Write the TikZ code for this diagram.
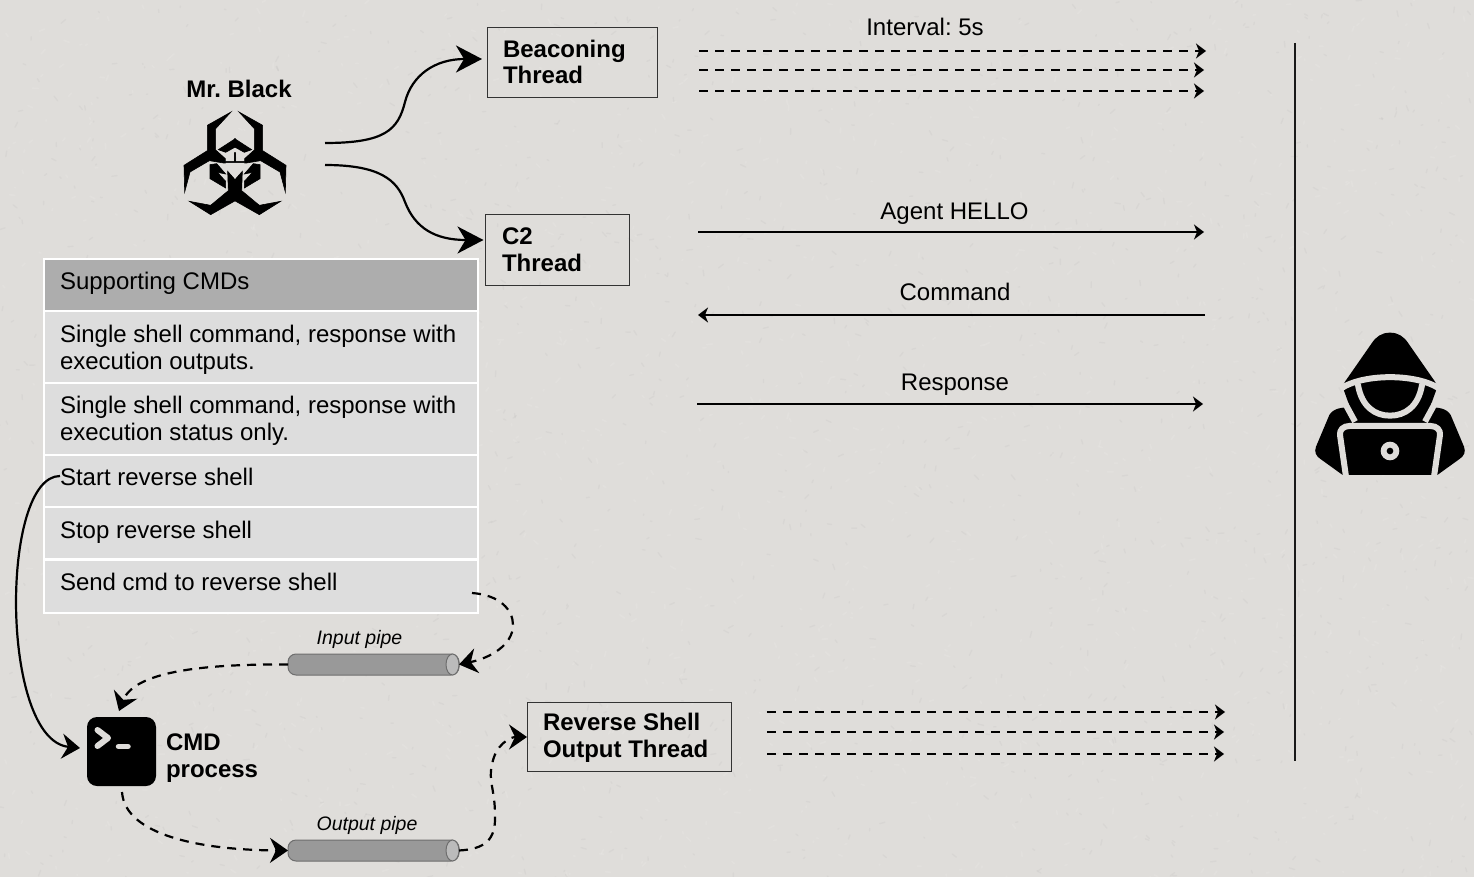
\documentclass[tikz,border=0pt]{standalone}
\usepackage{fontspec}
\setmainfont{Liberation Sans}
\usetikzlibrary{arrows.meta,shapes.geometric}
\definecolor{paper}{HTML}{DFDDDA}
\definecolor{headfill}{HTML}{ADADAD}
\definecolor{rowfill}{HTML}{DDDDDD}
\definecolor{pipefill}{HTML}{999999}
\definecolor{pipecap}{HTML}{BBBBBB}
\definecolor{pipeline}{HTML}{6E6E6E}
\frenchspacing
\tikzset{
  x=1pt,y=-1pt,
  every node/.style={outer sep=0pt},
  txt/.style={inner sep=0pt,font=\fontsize{24}{27}\selectfont,anchor=base},
  celltxt/.style={inner sep=0pt,font=\fontsize{24}{27}\selectfont,anchor=north west,align=left,text height=19pt},
  boldtxt/.style={inner sep=0pt,font=\fontsize{24}{26.5}\selectfont\bfseries,anchor=north west,align=left,text height=19pt},
  pipetxt/.style={inner sep=0pt,font=\fontsize{19.5}{24}\selectfont\itshape,anchor=base},
  threadbox/.style={draw=black!80,line width=1pt,anchor=north west,inner sep=0pt},
  headcell/.style={draw=white,line width=2pt,fill=headfill,anchor=north west,inner sep=0pt,minimum width=434pt},
  cell/.style={draw=white,line width=2pt,fill=rowfill,anchor=north west,inner sep=0pt,minimum width=434pt},
  pipebody/.style={draw=pipeline,line width=1pt,fill=pipefill,rounded corners=8pt,anchor=west,inner sep=0pt,minimum width=171pt,minimum height=21pt},
  pipeend/.style={ellipse,draw=pipeline,line width=1pt,fill=pipecap,inner sep=0pt,minimum width=13pt,minimum height=21pt},
  bigtip/.style={-{Stealth[length=26pt,width=27pt,inset=8pt]}},
  midtip/.style={-{Stealth[length=18pt,width=25pt,inset=6pt]}},
  smalltip/.style={-{Stealth[length=10pt,width=15pt,inset=3pt]}},
  wire/.style={line width=2pt,black},
  dashwire/.style={line width=2pt,black,dash pattern=on 9pt off 7pt},
  curvewire/.style={line width=2.2pt,black},
  curvedash/.style={line width=2.2pt,black,dash pattern=on 9pt off 7pt},
  iconstroke/.style={draw=paper,line width=6pt,line cap=round,line join=round},
  emblempart/.style={fill=black,draw=black,line width=.6pt,line join=miter},
}
\begin{document}
\begin{tikzpicture}
\useasboundingbox (0,0) rectangle (1474,877);
\fill[paper] (0,0) rectangle (1474,877);

% fine paper grain
\begin{scope}
\clip (0,0) rectangle (1474,877);
\pgfmathsetseed{4711}
\foreach \n in {1,...,2600}{
  \pgfmathsetmacro{\px}{rnd*1474}
  \pgfmathsetmacro{\py}{rnd*877}
  \pgfmathsetmacro{\ang}{rnd*180}
  \pgfmathsetmacro{\len}{1+rnd*5}
  \pgfmathtruncatemacro{\odd}{mod(\n,2)}
  \ifnum\odd=1
    \draw[white,opacity=.10,line width=1.6pt,line cap=round] (\px,\py) -- +(\ang:\len);
  \else
    \draw[black!60,opacity=.05,line width=1.4pt,line cap=round] (\px,\py) -- +(\ang:\len);
  \fi
}
\end{scope}

% biohazard emblem, built from one half and its mirror image
\foreach \side in {1,-1}{
\begin{scope}[shift={(235,144)},xscale=\side,x=0.3333pt,y=-0.3333pt,shift={(-165,-108)}]
  \path[emblempart] (153,12) -- (82,52) -- (82,128) -- (12,172) -- (14,252) -- (30,192)
     -- (88,158) -- (130,165) -- (166,165) -- (166,134) -- (164,134) -- (164,160) -- (136,160) -- (136,152) -- (107,126) -- (107,62) -- cycle;
  \path[emblempart] (166,92) -- (115,125) -- (137,133) -- (166,117) -- cycle;
  \path[emblempart] (90,170) -- (110,167) -- (137,198) -- (112,193) -- (137,220) -- (137,240) -- (90,212) -- cycle;
  \path[emblempart] (166,216) -- (143,190) -- (145,248) -- (92,292) -- (28,280) -- (92,320) -- (166,278) -- cycle;
\end{scope}
}
\fill[paper] (225.5,163) -- (244.5,163) -- (235,178.7) -- cycle;

% hooded operator at a laptop
\begin{scope}[shift={(1300,320)},x=0.3333pt,y=-0.3333pt]
  \fill[black] (270,38) .. controls (245,38) and (228,50) .. (215,70) -- (135,185) .. controls (128,195) and (128,205) .. (132,212)
    -- (150,262) .. controls (125,262) and (100,265) .. (88,285) -- (48,380) .. controls (42,395) and (48,408) .. (60,416) -- (128,465)
    -- (412,465) -- (480,416) .. controls (492,408) and (498,395) .. (492,380) -- (452,285) .. controls (440,265) and (415,262) .. (390,262)
    -- (408,212) .. controls (412,205) and (412,195) .. (405,185) -- (325,70) .. controls (312,50) and (295,38) .. (270,38) -- cycle;
  \draw[iconstroke,line cap=butt] (122,206) .. controls (190,160) and (350,160) .. (418,206);
  \draw[iconstroke] (174,195) .. controls (185,260) and (225,287) .. (270,287) .. controls (315,287) and (355,260) .. (366,195);
  \draw[iconstroke,line cap=butt] (135,250) -- (165,305);
  \draw[iconstroke,line cap=butt] (405,250) -- (375,305);
  \draw[iconstroke,line cap=butt] (138,470) -- (120,345) .. controls (118,330) and (130,318) .. (148,318) -- (392,318) .. controls (410,318) and (422,330) .. (420,345) -- (402,470);
  \fill[paper] (270,393) circle (28);
  \fill[black] (270,393) circle (10);
\end{scope}

% terminal icon of the CMD process
\node[fill=black,rounded corners=10pt,inner sep=0pt,minimum width=69pt,minimum height=69pt,anchor=north west] (cmd) at (87,717) {};
\draw[paper,line width=6pt,line cap=round,line join=round] (97.5,730) -- (108,738) -- (97.5,746);
\draw[paper,line width=5.5pt,line cap=round] (118.5,746.5) -- (128,746.5);

% command table
\node[headcell,minimum height=52pt] (chead) at (44,259) {};
\node[cell,minimum height=72pt] (crowa) at (44,311) {};
\node[cell,minimum height=72pt] (crowb) at (44,383) {};
\node[cell,minimum height=53pt] (crowc) at (44,455) {};
\node[cell,minimum height=52pt] (crowd) at (44,507) {};
\node[cell,minimum height=53pt] (crowe) at (44,559.5) {};
\node[celltxt] (theadtxt) at (60,270) {Supporting CMDs};
\node[celltxt] (trowa) at (60,350) {Single shell command, response with\\execution outputs.};
\node[celltxt] (trowb) at (60,421) {Single shell command, response with\\execution status only.};
\node[celltxt] (trowc) at (60,466) {Start reverse shell};
\node[celltxt] (trowd) at (60,519) {Stop reverse shell};
\node[celltxt] (trowe) at (60,571) {Send cmd to reverse shell};

% thread boxes
\node[threadbox,minimum width=170pt,minimum height=70pt] (beacon) at (487,28) {};
\node[boldtxt] (beacontxt) at (503,65) {Beaconing\\Thread};
\node[threadbox,minimum width=144pt,minimum height=70pt] (ctwo) at (485,215) {};
\node[boldtxt] (ctwotxt) at (502,252) {C2\\Thread};
\node[threadbox,minimum width=204pt,minimum height=69pt] (revout) at (527,702) {};
\node[boldtxt] (revouttxt) at (543,738) {Reverse Shell\\Output Thread};

% labels
\node[inner sep=0pt,font=\fontsize{24}{27}\selectfont\bfseries] (mrblack) at (239,89) {Mr. Black};
\node[boldtxt] (cmdtxt) at (166,758) {CMD\\process};
\node[txt] (lblinterval) at (925,36) {Interval: 5s};
\node[txt] (lblhello) at (954.5,220) {Agent HELLO};
\node[txt] (lblcommand) at (955,300) {Command};
\node[txt] (lblresponse) at (955,390) {Response};
\node[pipetxt] (lblin) at (359.5,644) {Input pipe};
\node[pipetxt] (lblout) at (367,830) {Output pipe};

% pipes
\node[pipebody] (inpipe) at (288,664.5) {};
\node[pipeend] (incap) at (452.5,664.5) {};
\node[pipebody] (outpipe) at (288,850.5) {};
\node[pipeend] (outcap) at (452.5,850.5) {};

% wire end points
\coordinate (emblemA) at (325,143);
\coordinate (emblemB) at (325,165);
\coordinate (bendA) at (405,102);
\coordinate (bendB) at (405,202);
\foreach \nm/\xa/\ya/\xb/\yb in {
  ba/699/51/1206/51, bb/699/70/1204/70, bc/699/91/1204/91,
  ca/698/232/1204/232, cb/1205/315/698/315, cc/697/404/1203/404,
  ra/767/712/1225/712, rb/767/732/1224/732, rc/767/754/1224/754}{
  \coordinate (\nm s) at (\xa,\ya);
  \coordinate (\nm e) at (\xb,\yb);
}
\coordinate (sendout) at (472,593);
\coordinate (sendbend) at (513,625);
\coordinate (cmdin) at (119,711);
\coordinate (cmdout) at (122,792);
\coordinate (startout) at (60,476);
\coordinate (cmdleft) at (80,748);
\coordinate (outbenda) at (495,815);
\coordinate (outbendb) at (492,765);
\coordinate (railtop) at (1295,43);
\coordinate (railbot) at (1295,761);

% traffic arrows
\draw[dashwire,smalltip] (bas) -- (bae);
\draw[dashwire,smalltip] (bbs) -- (bbe);
\draw[dashwire,smalltip] (bcs) -- (bce);
\draw[wire,smalltip] (cas) -- (cae);
\draw[wire,smalltip] (cbs) -- (cbe);
\draw[wire,smalltip] (ccs) -- (cce);
\draw[dashwire,smalltip] (ras) -- (rae);
\draw[dashwire,smalltip] (rbs) -- (rbe);
\draw[dashwire,smalltip] (rcs) -- (rce);
\draw[line width=2pt,black!90] (railtop) -- (railbot);

% emblem to the two threads
\draw[curvewire,bigtip,shorten >=5pt] (emblemA) .. controls (385,143) and (398,130) .. (bendA) .. controls (412,75) and (435,59) .. (beacon.west |- 0,59);
\draw[curvewire,bigtip,shorten >=1.5pt] (emblemB) .. controls (380,165) and (397,180) .. (bendB) .. controls (415,228) and (435,240) .. (ctwo.west |- 0,240);

% reverse shell plumbing
\draw[curvewire,midtip] (startout) .. controls (0,476) and (0,740) .. (cmdleft);
\draw[curvedash,midtip] (sendout) .. controls (500,595) and (513,610) .. (sendbend) .. controls (513,645) and (490,658) .. (incap.east);
\draw[curvedash,midtip] (inpipe.west) .. controls (210,664) and (135,670) .. (cmdin);
\draw[curvedash,midtip] (cmdout) .. controls (125,835) and (200,850) .. (outpipe.west);
\draw[curvedash,midtip] (outcap.east) .. controls (485,849) and (496,840) .. (outbenda) .. controls (495,790) and (488,780) .. (outbendb) .. controls (495,745) and (510,737) .. (revout.west |- 0,737);
\end{tikzpicture}
\end{document}
